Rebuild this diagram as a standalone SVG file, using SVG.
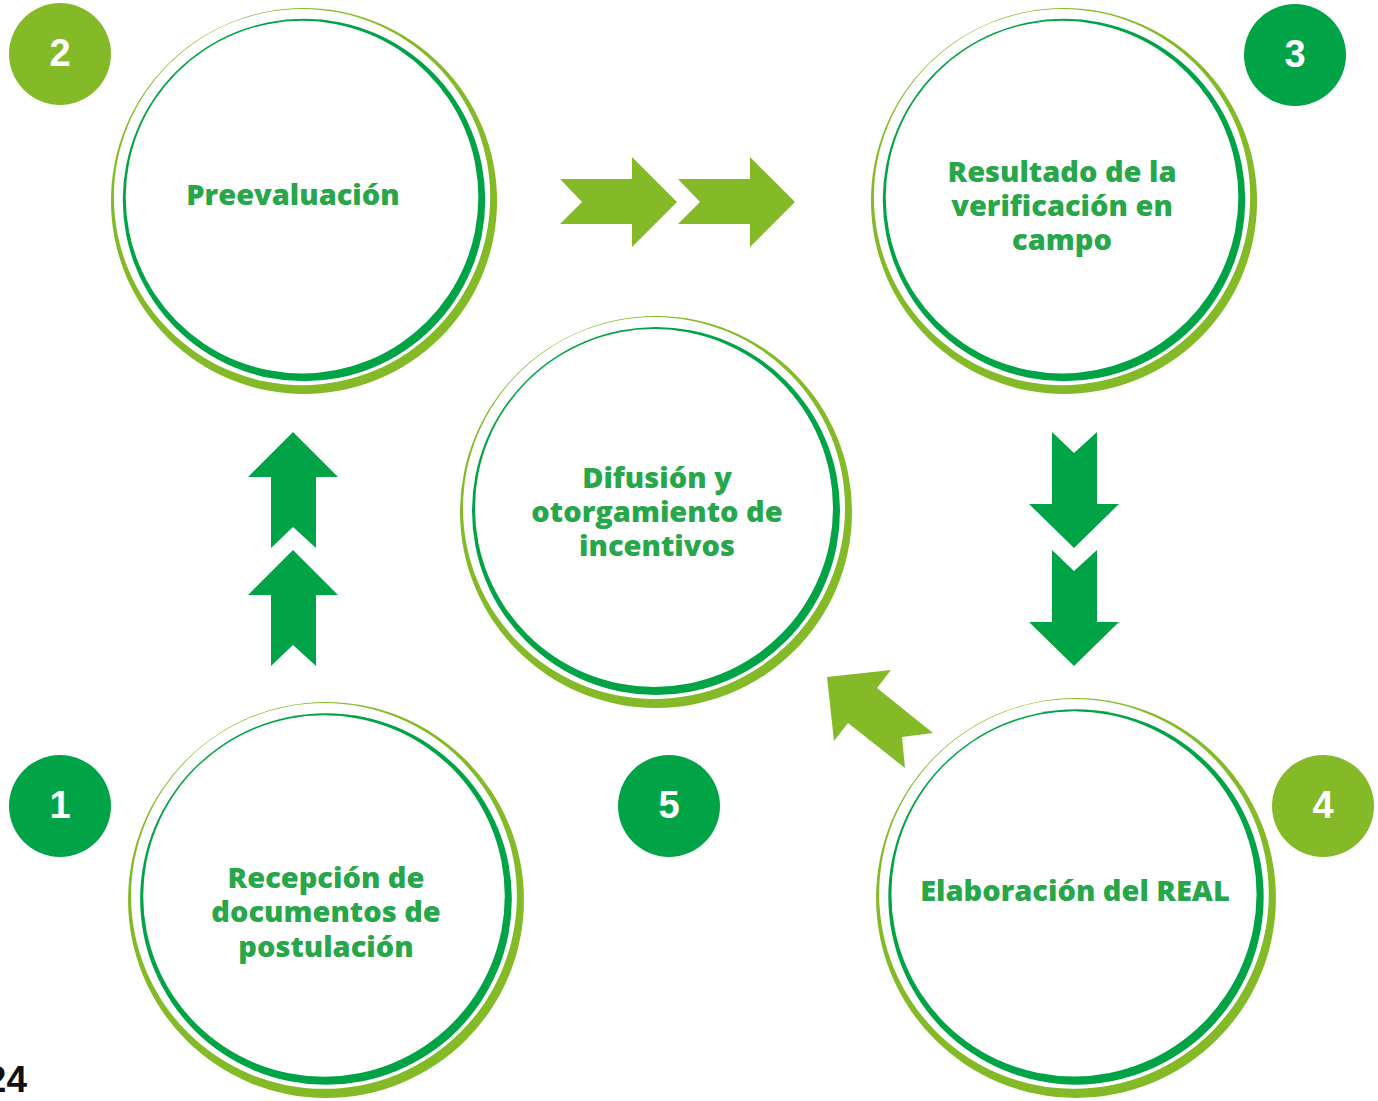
<svg xmlns="http://www.w3.org/2000/svg" width="1378" height="1101" viewBox="0 0 1378 1101">
<style>
.lg{fill:#84BA27}
.dg{fill:#00A346}
.wh{fill:#FFFFFF}
.lbl{font-family:"Open Sans","Noto Sans","Liberation Sans",sans-serif;font-weight:800;font-size:29px;fill:#27A74A;text-anchor:middle}
.num{font-family:"Liberation Sans",Arial,sans-serif;font-weight:700;font-size:38px;fill:#FFFFFF;text-anchor:middle}
</style>
<defs>
<g id="ring">
<circle cx="0" cy="0" r="196" class="lg"/>
<circle cx="-2" cy="-4" r="191" class="wh"/>
<circle cx="0" cy="-1" r="184" class="dg"/>
<circle cx="-2" cy="-4" r="179" class="wh"/>
</g>
</defs>
<rect width="1378" height="1101" fill="#FFFFFF"/>

<g id="connectors">
<polygon class="lg" points="560,179 632,179 632,157 677,202 632,247 632,224 560,224 582,202"/>
<polygon class="lg" points="678,179 750,179 750,157 795,202 750,247 750,224 678,224 700,202"/>
<polygon class="dg" points="1052,432 1074,453 1097,432 1097,504 1119,504 1074,548 1029,504 1052,504"/>
<polygon class="dg" points="1052,550 1074,571 1097,550 1097,622 1119,622 1074,666 1029,622 1052,622"/>
<polygon class="lg" points="827,677 891,670 877,688 933,733 902,737 905,768 848,723 834,741"/>
<polygon class="dg" points="293,432 338,477 316,477 316,548 293,527 271,548 271,477 248,477"/>
<polygon class="dg" points="293,550 338,595 316,595 316,666 293,645 271,666 271,595 248,595"/>
</g>

<g id="node-2">
<use href="#ring" transform="translate(304,201) scale(0.985)"/>
<text class="lbl" x="293" y="205">Preevaluación</text>
</g>

<g id="node-3">
<use href="#ring" transform="translate(1064,201) scale(0.985)"/>
<text class="lbl" x="1062" y="182">Resultado de la</text>
<text class="lbl" x="1062" y="216">verificación en</text>
<text class="lbl" x="1062" y="250">campo</text>
</g>

<g id="node-5">
<use href="#ring" transform="translate(656,512) scale(1.0)"/>
<text class="lbl" x="657" y="488">Difusión y</text>
<text class="lbl" x="657" y="522">otorgamiento de</text>
<text class="lbl" x="657" y="556">incentivos</text>
</g>

<g id="node-1">
<use href="#ring" transform="translate(326,900) scale(1.01)"/>
<text class="lbl" x="326" y="888">Recepción de</text>
<text class="lbl" x="326" y="922">documentos de</text>
<text class="lbl" x="326" y="957">postulación</text>
</g>

<g id="node-4">
<use href="#ring" transform="translate(1076,898) scale(1.02)"/>
<text class="lbl" x="1075" y="901">Elaboración del REAL</text>
</g>

<g id="badge-2">
<circle cx="60" cy="54" r="51" class="lg"/>
<text class="num" x="60" y="66">2</text>
</g>
<g id="badge-3">
<circle cx="1295" cy="55" r="51" class="dg"/>
<text class="num" x="1295" y="67">3</text>
</g>
<g id="badge-1">
<circle cx="60" cy="806" r="51" class="dg"/>
<text class="num" x="60" y="818">1</text>
</g>
<g id="badge-5">
<circle cx="669" cy="806" r="51" class="dg"/>
<text class="num" x="669" y="818">5</text>
</g>
<g id="badge-4">
<circle cx="1323" cy="806" r="51" class="lg"/>
<text class="num" x="1323" y="818">4</text>
</g>

<text x="27" y="1092" font-family="Liberation Sans, Arial, sans-serif" font-weight="700" font-size="37" fill="#111111" text-anchor="end">24</text>
</svg>
